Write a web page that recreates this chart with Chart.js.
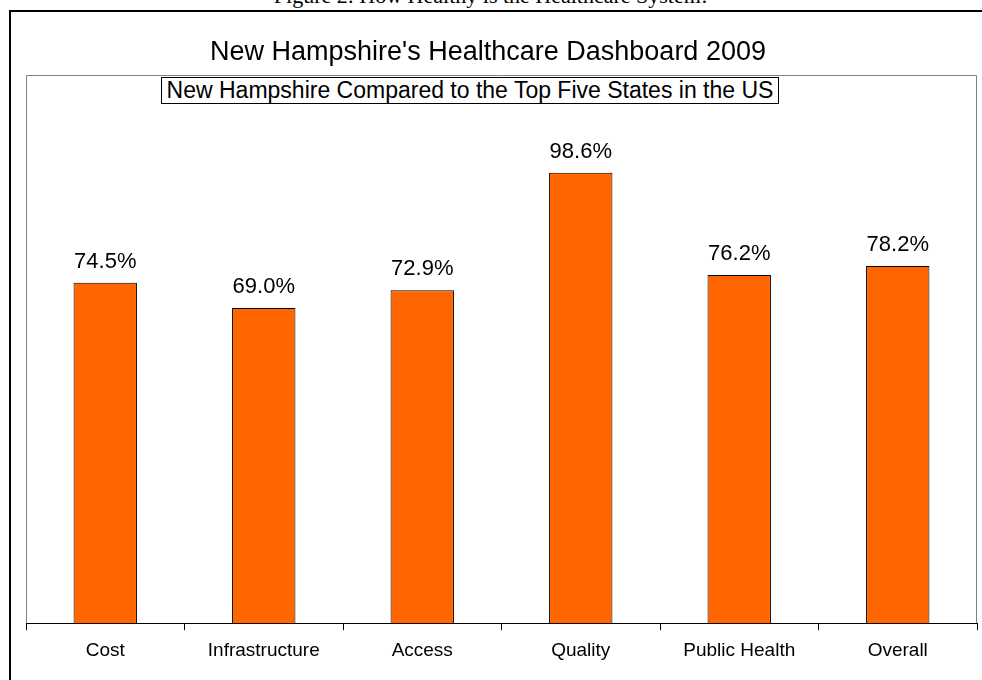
<!DOCTYPE html>
<html>
<head>
<meta charset="utf-8">
<script src="https://cdn.jsdelivr.net/npm/chart.js@4"></script>
<style>
  html, body { margin: 0; padding: 0; background: #fff; }
  #wrap { position: relative; width: 982px; height: 680px; overflow: hidden; background: #fff; }
  #frame { position: absolute; left: 9px; top: 10px; width: 1000px; height: 700px; border-top: 2px solid #000; border-left: 2px solid #000; box-sizing: border-box; }
  #caption { position: absolute; left: 0; width: 982px; top: -15px; text-align: center; font-family: "Liberation Serif", "Times New Roman", serif; font-size: 22px; line-height: 22px; color: #000; white-space: nowrap; }
  #chart { position: absolute; left: 0; top: 0; }
  #title { position: absolute; left: 0; width: 976px; top: 36px; text-align: center; font-family: "Liberation Sans", Arial, sans-serif; font-size: 27px; line-height: 30px; color: #000; white-space: nowrap; }
  #subtitle { position: absolute; left: 161px; top: 77px; width: 618px; height: 27px; box-sizing: border-box; border: 1px solid #000; background: #fff; text-align: center; font-family: "Liberation Sans", Arial, sans-serif; font-size: 23px; line-height: 25px; color: #000; white-space: nowrap; }
</style>
</head>
<body>
<div id="wrap">
  <div id="caption">Figure 2: How Healthy is the Healthcare System!</div>
  <div id="frame"></div>
  <canvas id="chart" width="982" height="680"></canvas>
  <div id="title">New Hampshire's Healthcare Dashboard 2009</div>
  <div id="subtitle">New Hampshire Compared to the Top Five States in the US</div>
</div>
<script>
const categories = ["Cost", "Infrastructure", "Access", "Quality", "Public Health", "Overall"];
const scores = [74.5, 69.0, 72.9, 98.6, 76.2, 78.2];

const FONT = '"Liberation Sans", Arial, sans-serif';

const plotFrame = {
  id: 'plotFrame',
  beforeDatasetsDraw(chart) {
    const a = chart.chartArea, ctx = chart.ctx;
    ctx.save();
    ctx.strokeStyle = '#808080';
    ctx.lineWidth = 1;
    ctx.beginPath();
    ctx.moveTo(Math.round(a.left) + 0.5, Math.round(a.bottom));
    ctx.lineTo(Math.round(a.left) + 0.5, Math.round(a.top) + 0.5);
    ctx.lineTo(Math.round(a.right) - 0.5, Math.round(a.top) + 0.5);
    ctx.lineTo(Math.round(a.right) - 0.5, Math.round(a.bottom));
    ctx.stroke();
    ctx.restore();
  }
};

const valueLabels = {
  id: 'valueLabels',
  afterDatasetsDraw(chart) {
    const ctx = chart.ctx;
    const meta = chart.getDatasetMeta(0);
    ctx.save();
    ctx.font = '22px ' + FONT;
    ctx.fillStyle = '#000';
    ctx.textAlign = 'center';
    ctx.textBaseline = 'middle';
    meta.data.forEach((bar, i) => {
      ctx.fillText(scores[i].toFixed(1) + '%', bar.x, bar.y - 21);
    });
    ctx.restore();
  }
};

new Chart(document.getElementById('chart'), {
  type: 'bar',
  data: {
    labels: categories,
    datasets: [{
      data: scores,
      backgroundColor: '#FF6600',
      borderColor: '#000000',
      borderWidth: 1,
      barPercentage: 0.4,
      categoryPercentage: 1.0
    }]
  },
  options: {
    responsive: false,
    animation: false,
    layout: { padding: { left: 26, right: 5, top: 75, bottom: 9 } },
    plugins: {
      legend: { display: false },
      tooltip: { enabled: false },
      title: { display: false }
    },
    scales: {
      x: {
        grid: { display: true, drawOnChartArea: false, drawTicks: true, tickLength: 7, color: '#000', offset: true },
        border: { display: true, color: '#000', width: 1 },
        ticks: { color: '#000', font: { family: FONT, size: 19 }, padding: 9, maxRotation: 0, autoSkip: false }
      },
      y: {
        display: false,
        min: 0,
        max: 120
      }
    }
  },
  plugins: [plotFrame, valueLabels]
});
</script>
</body>
</html>
